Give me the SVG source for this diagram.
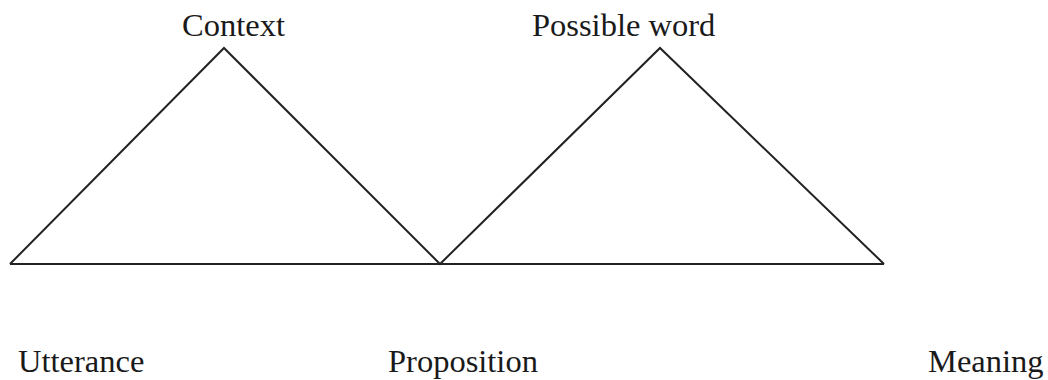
<svg xmlns="http://www.w3.org/2000/svg" width="1048" height="380" viewBox="0 0 1048 380">
<style>
.lbl{font-family:"Liberation Serif","Times New Roman",serif;font-size:32.5px;fill:#1a1a1a}
.ln{fill:none;stroke:#222;stroke-width:2;stroke-linejoin:miter}
</style>
<rect width="1048" height="380" fill="#fff"/>
<g id="connectors">
<polyline class="ln" points="10,264 224,48 440,264 660,48 884,264"/>
<line class="ln" x1="10" y1="264" x2="884" y2="264"/>
</g>
<g id="context"><text class="lbl" x="182" y="36">Context</text></g>
<g id="possible-word"><text class="lbl" x="532" y="36">Possible word</text></g>
<g id="utterance"><text class="lbl" x="18" y="372">Utterance</text></g>
<g id="proposition"><text class="lbl" x="388" y="372">Proposition</text></g>
<g id="meaning"><text class="lbl" x="928" y="372">Meaning</text></g>
</svg>
